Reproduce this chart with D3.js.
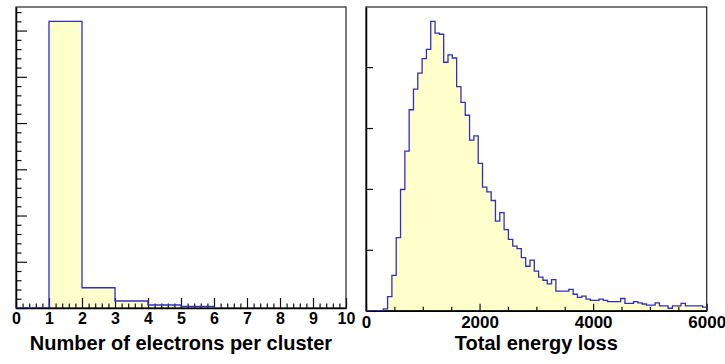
<!DOCTYPE html>
<html><head><meta charset="utf-8">
<script src="https://cdn.jsdelivr.net/npm/d3@7"></script>
<style>
html,body{margin:0;padding:0;background:#fff;}
svg{display:block;font-family:"Liberation Sans",Arial,Helvetica,sans-serif;font-weight:bold;}
</style></head>
<body><svg id="c" width="725" height="364"></svg>
<script>
// ---- data ----
const leftEdges = [0, 1, 2, 3, 4, 5, 6];
const leftCounts = [0, 6200, 438, 151, 65, 37];
const leftTickLabels = ["0","1","2","3","4","5","6","7","8","9","10"];
const leftTitle = "Number of electrons per cluster";

const rightBinWidth = 76;
const rightCounts = [0,0,0,0,3,23,58,120,199,262,330,364,390,414,429,475,456,454,
  408,420,415,368,342,321,280,287,242,203,195,181,147,161,133,117,106,102,87,73,83,
  65,55,50,44,51,32,32,32,35,27,22,24,19,17,17,19,17,15,15,15,20,12,12,15,13,11,9,9,
  13,8,8,4,8,8,12,8,8,8,8,6];
const rightTickLabels = ["0","2000","4000","6000"];
const rightTitle = "Total energy loss";

const svg = d3.select("#c");
const FILL = "#ffffcc", LINE = "#2f2fc4";

function histPoints(edges, counts){
  const pts = [[edges[0], 0]];
  counts.forEach((c,i)=>{ pts.push([edges[i], c]); pts.push([edges[i+1], c]); });
  pts.push([edges[counts.length], 0]);
  return pts;
}

function panel(o){
  const g = svg.append("g");
  const clipId = "clip"+o.id;
  svg.append("clipPath").attr("id", clipId).append("rect")
    .attr("x", o.x.range()[0]).attr("y", o.y.range()[1])
    .attr("width", o.x.range()[1]-o.x.range()[0]).attr("height", o.y.range()[0]-o.y.range()[1]);
  const pts = histPoints(o.edges, o.counts);
  const area = d3.area().x(d=>o.x(d[0])).y0(o.y(0)).y1(d=>o.y(d[1]));
  const line = d3.line().x(d=>o.x(d[0])).y(d=>o.y(d[1]));
  g.append("path").attr("d", area(pts)).attr("fill", FILL).attr("clip-path", `url(#${clipId})`);

  // frame
  const [x0,x1] = o.x.range(), [yb,yt] = o.y.range();
  g.append("rect").attr("x", x0).attr("y", yt).attr("width", x1-x0).attr("height", yb-yt)
    .attr("fill","none").attr("stroke","#333").attr("stroke-width",1.3);

  // x axis minor
  g.append("g").attr("transform",`translate(0,${yb})`)
    .call(d3.axisBottom(o.x).tickValues(o.xMinor).tickSizeInner(-o.xMinorLen).tickSizeOuter(0).tickFormat(""))
    .call(s=>{s.select(".domain").remove(); s.selectAll("line").attr("stroke","#111").attr("stroke-width",1.2);});
  // x axis major
  const xa = g.append("g").attr("transform",`translate(0,${yb})`)
    .call(d3.axisBottom(o.x).tickValues(o.xMajor).tickSizeInner(-o.xMajorLen).tickSizeOuter(0)
      .tickFormat((d,i)=>o.xLabels[i]));
  xa.select(".domain").attr("stroke","#000").attr("stroke-width",1.5);
  xa.selectAll("line").attr("stroke","#111").attr("stroke-width",1.2);
  xa.selectAll("text").attr("y", o.labelDy).attr("dy", null).attr("fill","#000")
    .style("font-size", o.labelSize+"px").style("font-weight","bold").style("font-family",'"Liberation Sans",Arial,sans-serif');

  // y axis minor/major (no labels)
  if (o.yMinor){
    g.append("g").attr("transform",`translate(${x0},0)`)
      .call(d3.axisLeft(o.y).tickValues(o.yMinor).tickSizeInner(-o.yMinorLen).tickSizeOuter(0).tickFormat(""))
      .call(s=>{s.select(".domain").remove(); s.selectAll("line").attr("stroke","#111").attr("stroke-width",1.2);});
  }
  g.append("g").attr("transform",`translate(${x0},0)`)
    .call(d3.axisLeft(o.y).tickValues(o.yMajor).tickSizeInner(-o.yMajorLen).tickSizeOuter(0).tickFormat(""))
    .call(s=>{s.select(".domain").attr("stroke","#000").attr("stroke-width",1.5); s.selectAll("line").attr("stroke","#111").attr("stroke-width",1.2);});

  g.append("path").attr("d", line(pts)).attr("fill","none").attr("stroke", LINE)
    .attr("stroke-width",1.3).attr("clip-path", `url(#${clipId})`);

  g.append("text").attr("x",(x0+x1)/2).attr("y",o.titleY).attr("text-anchor","middle")
    .style("font-size","20px").style("font-weight","bold").attr("fill","#000").text(o.title);
}

// left
const xL = d3.scaleLinear().domain([0,10]).range([16,346]);
const yL = d3.scaleLinear().domain([0, d3.max(leftCounts)*1.05]).range([308,7]);
panel({id:"L", x:xL, y:yL, edges:leftEdges, counts:leftCounts,
  xMajor:d3.range(0,11), xMinor:d3.range(0,10.01,0.2).filter(v=>Math.abs(v-Math.round(v))>1e-6),
  xMajorLen:10, xMinorLen:4.5, xLabels:leftTickLabels, labelSize:16, labelDy:16,
  yMajor:d3.range(0,6001,1000), yMinor:d3.range(0,6501,200).filter(v=>v%1000!==0),
  yMajorLen:11, yMinorLen:5.5, title:leftTitle, titleY:350});

// right
const rightEdges = d3.range(rightCounts.length+1).map(i=>i*rightBinWidth);
const xR = d3.scaleLinear().domain([0,6000]).range([366,706.7]);
const yR = d3.scaleLinear().domain([0, d3.max(rightCounts)*1.05]).range([310.7,7]);
panel({id:"R", x:xR, y:yR, edges:rightEdges, counts:rightCounts,
  xMajor:[0,2000,4000,6000], xMinor:d3.range(500,6000,500).filter(v=>v%2000!==0),
  xMajorLen:7, xMinorLen:4, xLabels:rightTickLabels, labelSize:17, labelDy:17,
  yMajor:[0,100,200,300,400], yMinor:null, yMajorLen:7, yMinorLen:0,
  title:rightTitle, titleY:350});
</script></body></html>
